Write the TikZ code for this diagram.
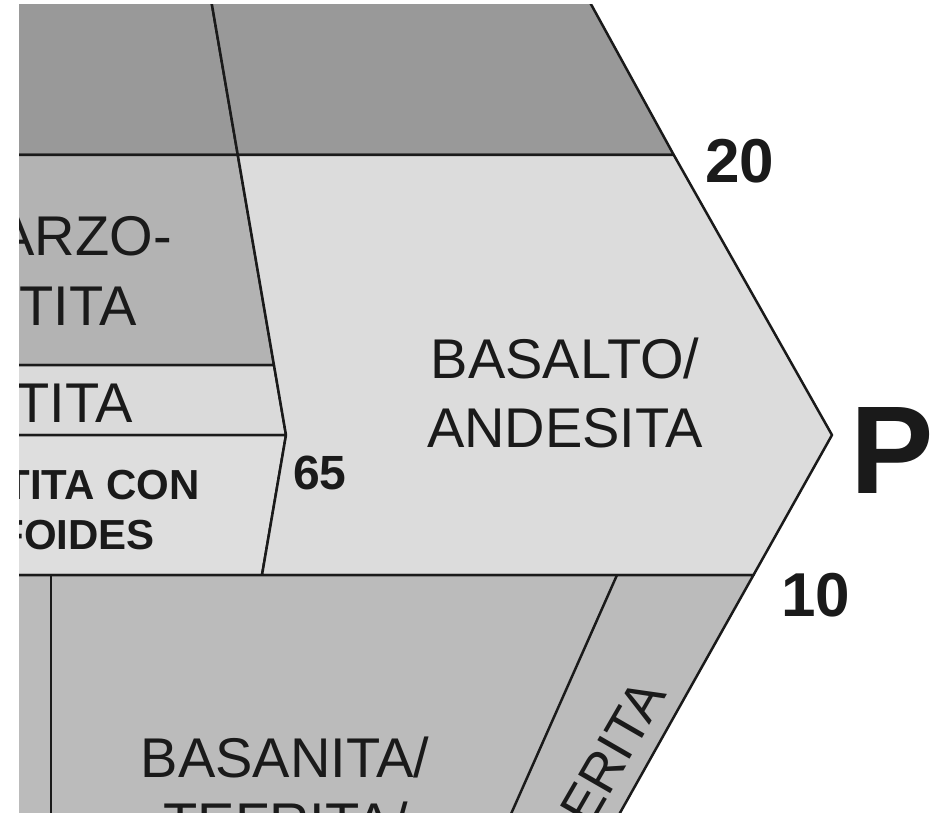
\documentclass[tikz,border=0pt]{standalone}
\usepackage{fontspec}
\setmainfont{Liberation Sans}
\usetikzlibrary{positioning}

\definecolor{darkfield}{HTML}{999999}
\definecolor{qlatfield}{HTML}{B3B3B3}
\definecolor{basfield}{HTML}{DCDCDC}
\definecolor{latfield}{HTML}{DADADA}
\definecolor{foidfield}{HTML}{DEDEDE}
\definecolor{tefield}{HTML}{BBBBBB}
\definecolor{ink}{HTML}{1A1A1A}

\begin{document}
\begin{tikzpicture}[x=1pt, y=-1pt, line join=round,
    field/.style={draw=ink, line width=2.5pt},
    rock/.style={font=\fontsize{56}{69}\selectfont, text=ink, inner sep=0pt},
    boldrock/.style={font=\bfseries\fontsize{42}{50}\selectfont, text=ink, inner sep=0pt, anchor=base east},
    tick/.style={font=\bfseries\fontsize{62}{62}\selectfont, text=ink, inner sep=0pt, anchor=base west}]
\useasboundingbox (0,0) rectangle (948,813);
\fill[white] (0,0) rectangle (948,813);

\begin{scope}
\clip (19,5) rectangle (948,813);

% Corners of the fields
\coordinate (dtop) at (207.7,-20);
\coordinate (d20) at (237.8,155);
\coordinate (d35) at (274,365);
\coordinate (knee) at (286,435);
\coordinate (d10) at (262,575);
\coordinate (etop) at (577.7,-20);
\coordinate (e20) at (673.8,155);
\coordinate (pv) at (832,435);
\coordinate (e10) at (753.5,575);
\coordinate (ebot) at (610.4,830);

% Fields above and around P
\filldraw[field, fill=darkfield] (0,-20) -- (dtop) -- (d20) -- (0,155) -- cycle;
\filldraw[field, fill=darkfield] (dtop) -- (etop) -- (e20) -- (d20) -- cycle;
\filldraw[field, fill=qlatfield] (0,155) -- (d20) -- (d35) -- (0,365) -- cycle;
\filldraw[field, fill=latfield] (0,365) -- (d35) -- (knee) -- (0,435) -- cycle;
\filldraw[field, fill=foidfield] (0,435) -- (knee) -- (d10) -- (0,575) -- cycle;
\filldraw[field, fill=basfield] (d20) -- (e20) -- (pv) -- (e10) -- (d10) -- (knee) -- cycle;
\filldraw[field, fill=tefield] (0,575) -- (e10) -- (ebot) -- (0,830) -- cycle;

% Dividers below the 10 line
\coordinate (vtop) at (51,575);
\coordinate (vbot) at (51,830);
\coordinate (stop) at (617,575);
\coordinate (sbot) at (503.9,830);
\draw[field] (vtop) -- (vbot);
\draw[field] (stop) -- (sbot);

% Rock names
\node[rock, anchor=base east] (arzo) at (172,255) {ARZO-};
\node[rock, anchor=base east] (tita1) at (137,325) {TITA};
\node[rock, anchor=base east] (tita2) at (133,422) {TITA};
\node[boldrock] (titacon) at (200,499) {TITA CON};
\node[boldrock] (foides) at (155,549) {FOIDES};
\node[rock, anchor=base] (basalto) at (565,378) {BASALTO/};
\node[rock, anchor=base] (andesita) at (565,447) {ANDESITA};
\node[rock, anchor=base] (basanita) at (285,777) {BASANITA/};
\node[rock, anchor=base] (tefrita) at (286,842) {TEFRITA/};
\node[rock, font=\fontsize{54}{60}\selectfont, rotate=60, anchor=base east] (erita) at (668,694) {ERITA};

% Values on the edges
\foreach \val/\xx/\yy in {20/705/183, 10/781/616} {
    \node[tick] (n\val) at (\xx,\yy) {\val};
}
\node[tick, font=\bfseries\fontsize{48}{48}\selectfont] (n65) at (293,489) {65};
\node[tick, font=\bfseries\fontsize{125}{125}\selectfont] (pcorner) at (850,493) {P};
\end{scope}
\end{tikzpicture}
\end{document}
